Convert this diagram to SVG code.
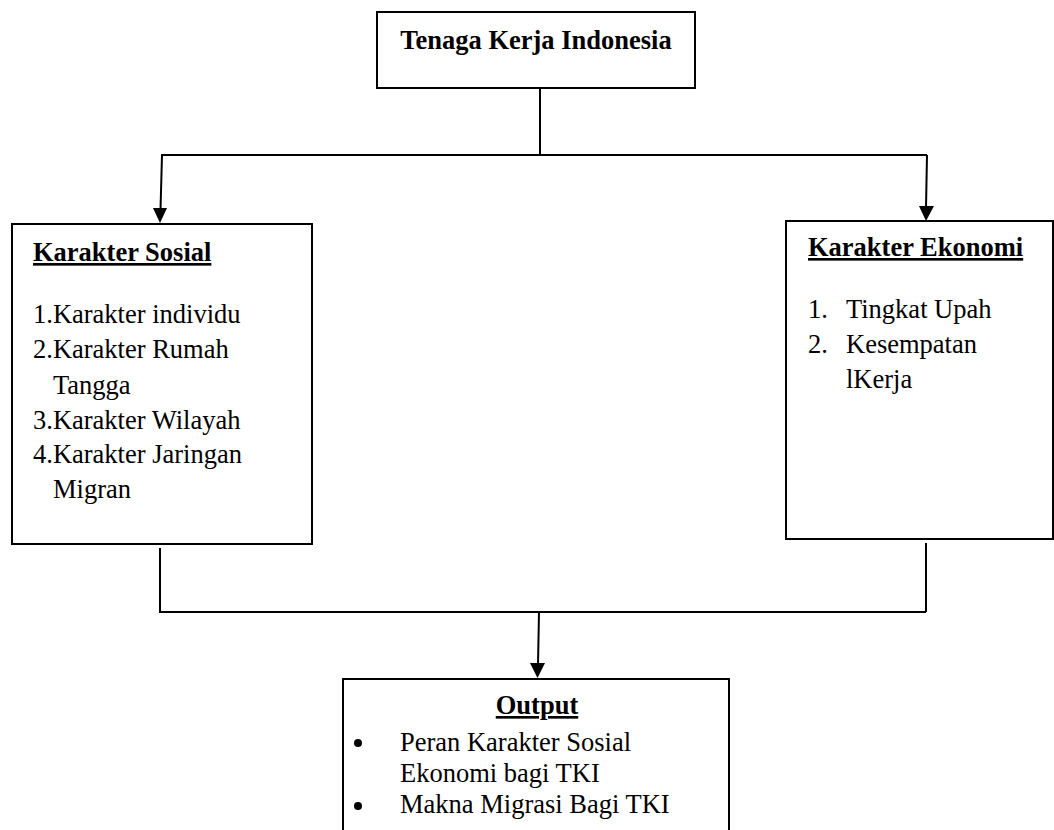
<svg xmlns="http://www.w3.org/2000/svg" width="1054" height="830" viewBox="0 0 1054 830">
<style>
  .box { fill: #fff; stroke: #000; stroke-width: 2; }
  .ln { fill: none; stroke: #000; stroke-width: 2; }
  text { font-family: 'Liberation Serif', 'DejaVu Serif', serif; font-size: 26.5px; fill: #000; }
  .b { font-weight: bold; }
  .u { text-decoration: underline; }
</style>
<rect width="1054" height="830" fill="#fff"/>
<g id="connectors">
  <line class="ln" x1="540" y1="88" x2="540" y2="155"/>
  <line class="ln" x1="161" y1="155" x2="927" y2="155"/>
  <path class="ln" d="M162,155 L160.5,210"/>
  <path d="M153,208 L167,208 L160,223 Z" fill="#000"/>
  <path class="ln" d="M927,155 L926,208"/>
  <path d="M919,206 L934,206 L926,221 Z" fill="#000"/>
  <line class="ln" x1="160" y1="548" x2="160" y2="613"/>
  <line class="ln" x1="160" y1="612" x2="926" y2="612"/>
  <line class="ln" x1="926" y1="543" x2="926" y2="612"/>
  <path class="ln" d="M539,612 L538,665"/>
  <path d="M530,663 L545,663 L537.5,678 Z" fill="#000"/>
</g>
<g id="tki">
  <rect class="box" x="377" y="12" width="318" height="76"/>
  <text class="b" x="536" y="49" text-anchor="middle">Tenaga Kerja Indonesia</text>
</g>
<g id="sosial">
  <rect class="box" x="12" y="224" width="300" height="320"/>
  <text class="b u" x="33" y="261">Karakter Sosial</text>
  <text x="33" y="323">1.Karakter individu</text>
  <text x="33" y="358">2.Karakter Rumah</text>
  <text x="53" y="394">Tangga</text>
  <text x="33" y="429">3.Karakter Wilayah</text>
  <text x="33" y="463">4.Karakter Jaringan</text>
  <text x="53" y="498">Migran</text>
</g>
<g id="ekonomi">
  <rect class="box" x="786" y="221" width="267" height="318"/>
  <text class="b u" x="808" y="256">Karakter Ekonomi</text>
  <text x="808" y="318">1.</text>
  <text x="846" y="318">Tingkat Upah</text>
  <text x="808" y="353">2.</text>
  <text x="846" y="353">Kesempatan</text>
  <text x="846" y="388">lKerja</text>
</g>
<g id="output">
  <rect class="box" x="343" y="679" width="386" height="170"/>
  <text class="b u" x="537" y="714" text-anchor="middle">Output</text>
  <circle cx="358" cy="743" r="4"/>
  <text x="400" y="751">Peran Karakter Sosial</text>
  <text x="400" y="782">Ekonomi bagi TKI</text>
  <circle cx="358" cy="806" r="4"/>
  <text x="400" y="813">Makna Migrasi Bagi TKI</text>
</g>
</svg>
